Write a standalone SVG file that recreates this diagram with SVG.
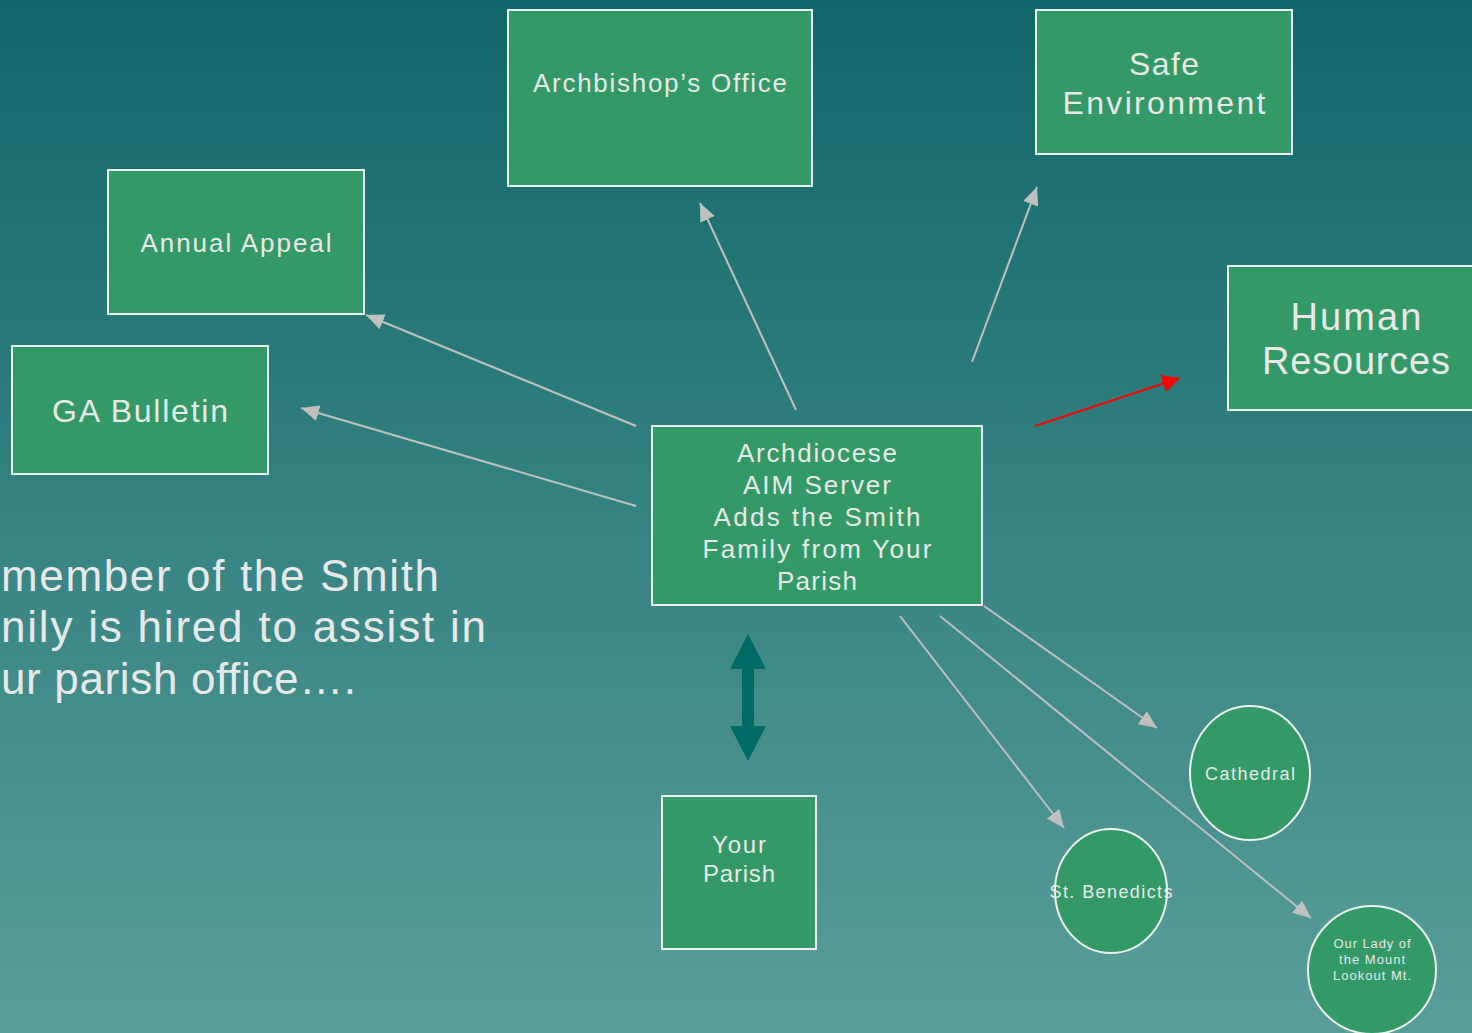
<svg xmlns="http://www.w3.org/2000/svg" width="1472" height="1033" viewBox="0 0 1472 1033">
<defs>
<linearGradient id="bg" x1="0" y1="0" x2="0" y2="1">
<stop offset="0" stop-color="#11666a"/>
<stop offset="1" stop-color="#5a9e9a"/>
</linearGradient>
<marker id="ah" markerUnits="userSpaceOnUse" markerWidth="20" markerHeight="16" refX="18" refY="8" orient="auto">
<path d="M0,0 L18,8 L0,16 Z" fill="#c0c0c0"/>
</marker>
<marker id="ahr" markerUnits="userSpaceOnUse" markerWidth="20" markerHeight="18" refX="18" refY="9" orient="auto">
<path d="M0,0 L18,9 L0,18 Z" fill="#ff0000"/>
</marker>
<style>
.box{fill:#339966;stroke:#eeeeee;stroke-width:2}
.t{font-family:"Liberation Sans",Arial,sans-serif;fill:#e8e8e8;text-anchor:middle}
.c{stroke:#c0c0c0;stroke-width:2;fill:none;marker-end:url(#ah)}
</style>
</defs>
<rect width="1472" height="1033" fill="url(#bg)"/>

<g id="connectors">
<line class="c" x1="636" y1="426" x2="366" y2="315"/>
<line class="c" x1="636" y1="506" x2="301" y2="408"/>
<line class="c" x1="796" y1="410" x2="700" y2="203"/>
<line class="c" x1="972" y1="362" x2="1037" y2="187"/>
<line x1="1035" y1="426" x2="1180" y2="378" stroke="#ff0000" stroke-width="2" marker-end="url(#ahr)"/>
<line class="c" x1="984" y1="606" x2="1157" y2="728"/>
<line class="c" x1="900" y1="616" x2="1064" y2="828"/>
<line class="c" x1="940" y1="616" x2="1311" y2="918"/>
<path id="double-arrow" d="M748,634 L766,669 L754,669 L754,726 L766,726 L748,761 L730,726 L742,726 L742,669 L730,669 Z" fill="#006b66"/>
</g>

<g id="archbishop">
<rect class="box" x="508" y="10" width="304" height="176"/>
<text class="t" x="660" y="92" font-size="26" textLength="254" lengthAdjust="spacing">Archbishop’s Office</text>
</g>
<g id="safe-environment">
<rect class="box" x="1036" y="10" width="256" height="144"/>
<text class="t" x="1164" y="75" font-size="32" textLength="70" lengthAdjust="spacing">Safe</text>
<text class="t" x="1164" y="114" font-size="32" textLength="203" lengthAdjust="spacing">Environment</text>
</g>
<g id="annual-appeal">
<rect class="box" x="108" y="170" width="256" height="144"/>
<text class="t" x="236" y="252" font-size="26" textLength="191" lengthAdjust="spacing">Annual Appeal</text>
</g>
<g id="ga-bulletin">
<rect class="box" x="12" y="346" width="256" height="128"/>
<text class="t" x="140" y="422" font-size="32" textLength="176" lengthAdjust="spacing">GA Bulletin</text>
</g>
<g id="human-resources">
<rect class="box" x="1228" y="266" width="256" height="144"/>
<text class="t" x="1356" y="330" font-size="38" textLength="131" lengthAdjust="spacing">Human</text>
<text class="t" x="1356" y="374" font-size="38" textLength="188" lengthAdjust="spacing">Resources</text>
</g>
<g id="archdiocese">
<rect class="box" x="652" y="426" width="330" height="179"/>
<text class="t" x="817" y="462" font-size="26" textLength="160" lengthAdjust="spacing">Archdiocese</text>
<text class="t" x="817" y="494" font-size="26" textLength="148" lengthAdjust="spacing">AIM Server</text>
<text class="t" x="817" y="526" font-size="26" textLength="207" lengthAdjust="spacing">Adds the Smith</text>
<text class="t" x="817" y="558" font-size="26" textLength="229" lengthAdjust="spacing">Family from Your</text>
<text class="t" x="817" y="590" font-size="26" textLength="80" lengthAdjust="spacing">Parish</text>
</g>
<g id="your-parish">
<rect class="box" x="662" y="796" width="154" height="153"/>
<text class="t" x="739" y="853" font-size="24" textLength="54" lengthAdjust="spacing">Your</text>
<text class="t" x="739" y="882" font-size="24" textLength="72" lengthAdjust="spacing">Parish</text>
</g>
<g id="cathedral">
<ellipse class="box" cx="1250" cy="773" rx="60" ry="67"/>
<text class="t" x="1250" y="780" font-size="18" textLength="90" lengthAdjust="spacing">Cathedral</text>
</g>
<g id="st-benedicts">
<ellipse class="box" cx="1111" cy="891" rx="56" ry="62"/>
<text class="t" x="1111" y="898" font-size="18" textLength="123" lengthAdjust="spacing">St. Benedicts</text>
</g>
<g id="our-lady">
<ellipse class="box" cx="1372" cy="970" rx="64" ry="64"/>
<text class="t" x="1372" y="948" font-size="13" textLength="77" lengthAdjust="spacing">Our Lady of</text>
<text class="t" x="1372" y="964" font-size="13" textLength="66" lengthAdjust="spacing">the Mount</text>
<text class="t" x="1372" y="980" font-size="13" textLength="78" lengthAdjust="spacing">Lookout Mt.</text>
</g>

<g id="caption" font-family="'Liberation Sans',Arial,sans-serif" font-size="44" fill="#e8e8e8">
<text x="1" y="591" textLength="438" lengthAdjust="spacing">member of the Smith</text>
<text x="1" y="642" textLength="485" lengthAdjust="spacing">nily is hired to assist in</text>
<text x="1" y="694" textLength="355" lengthAdjust="spacing">ur parish office….</text>
</g>
</svg>
